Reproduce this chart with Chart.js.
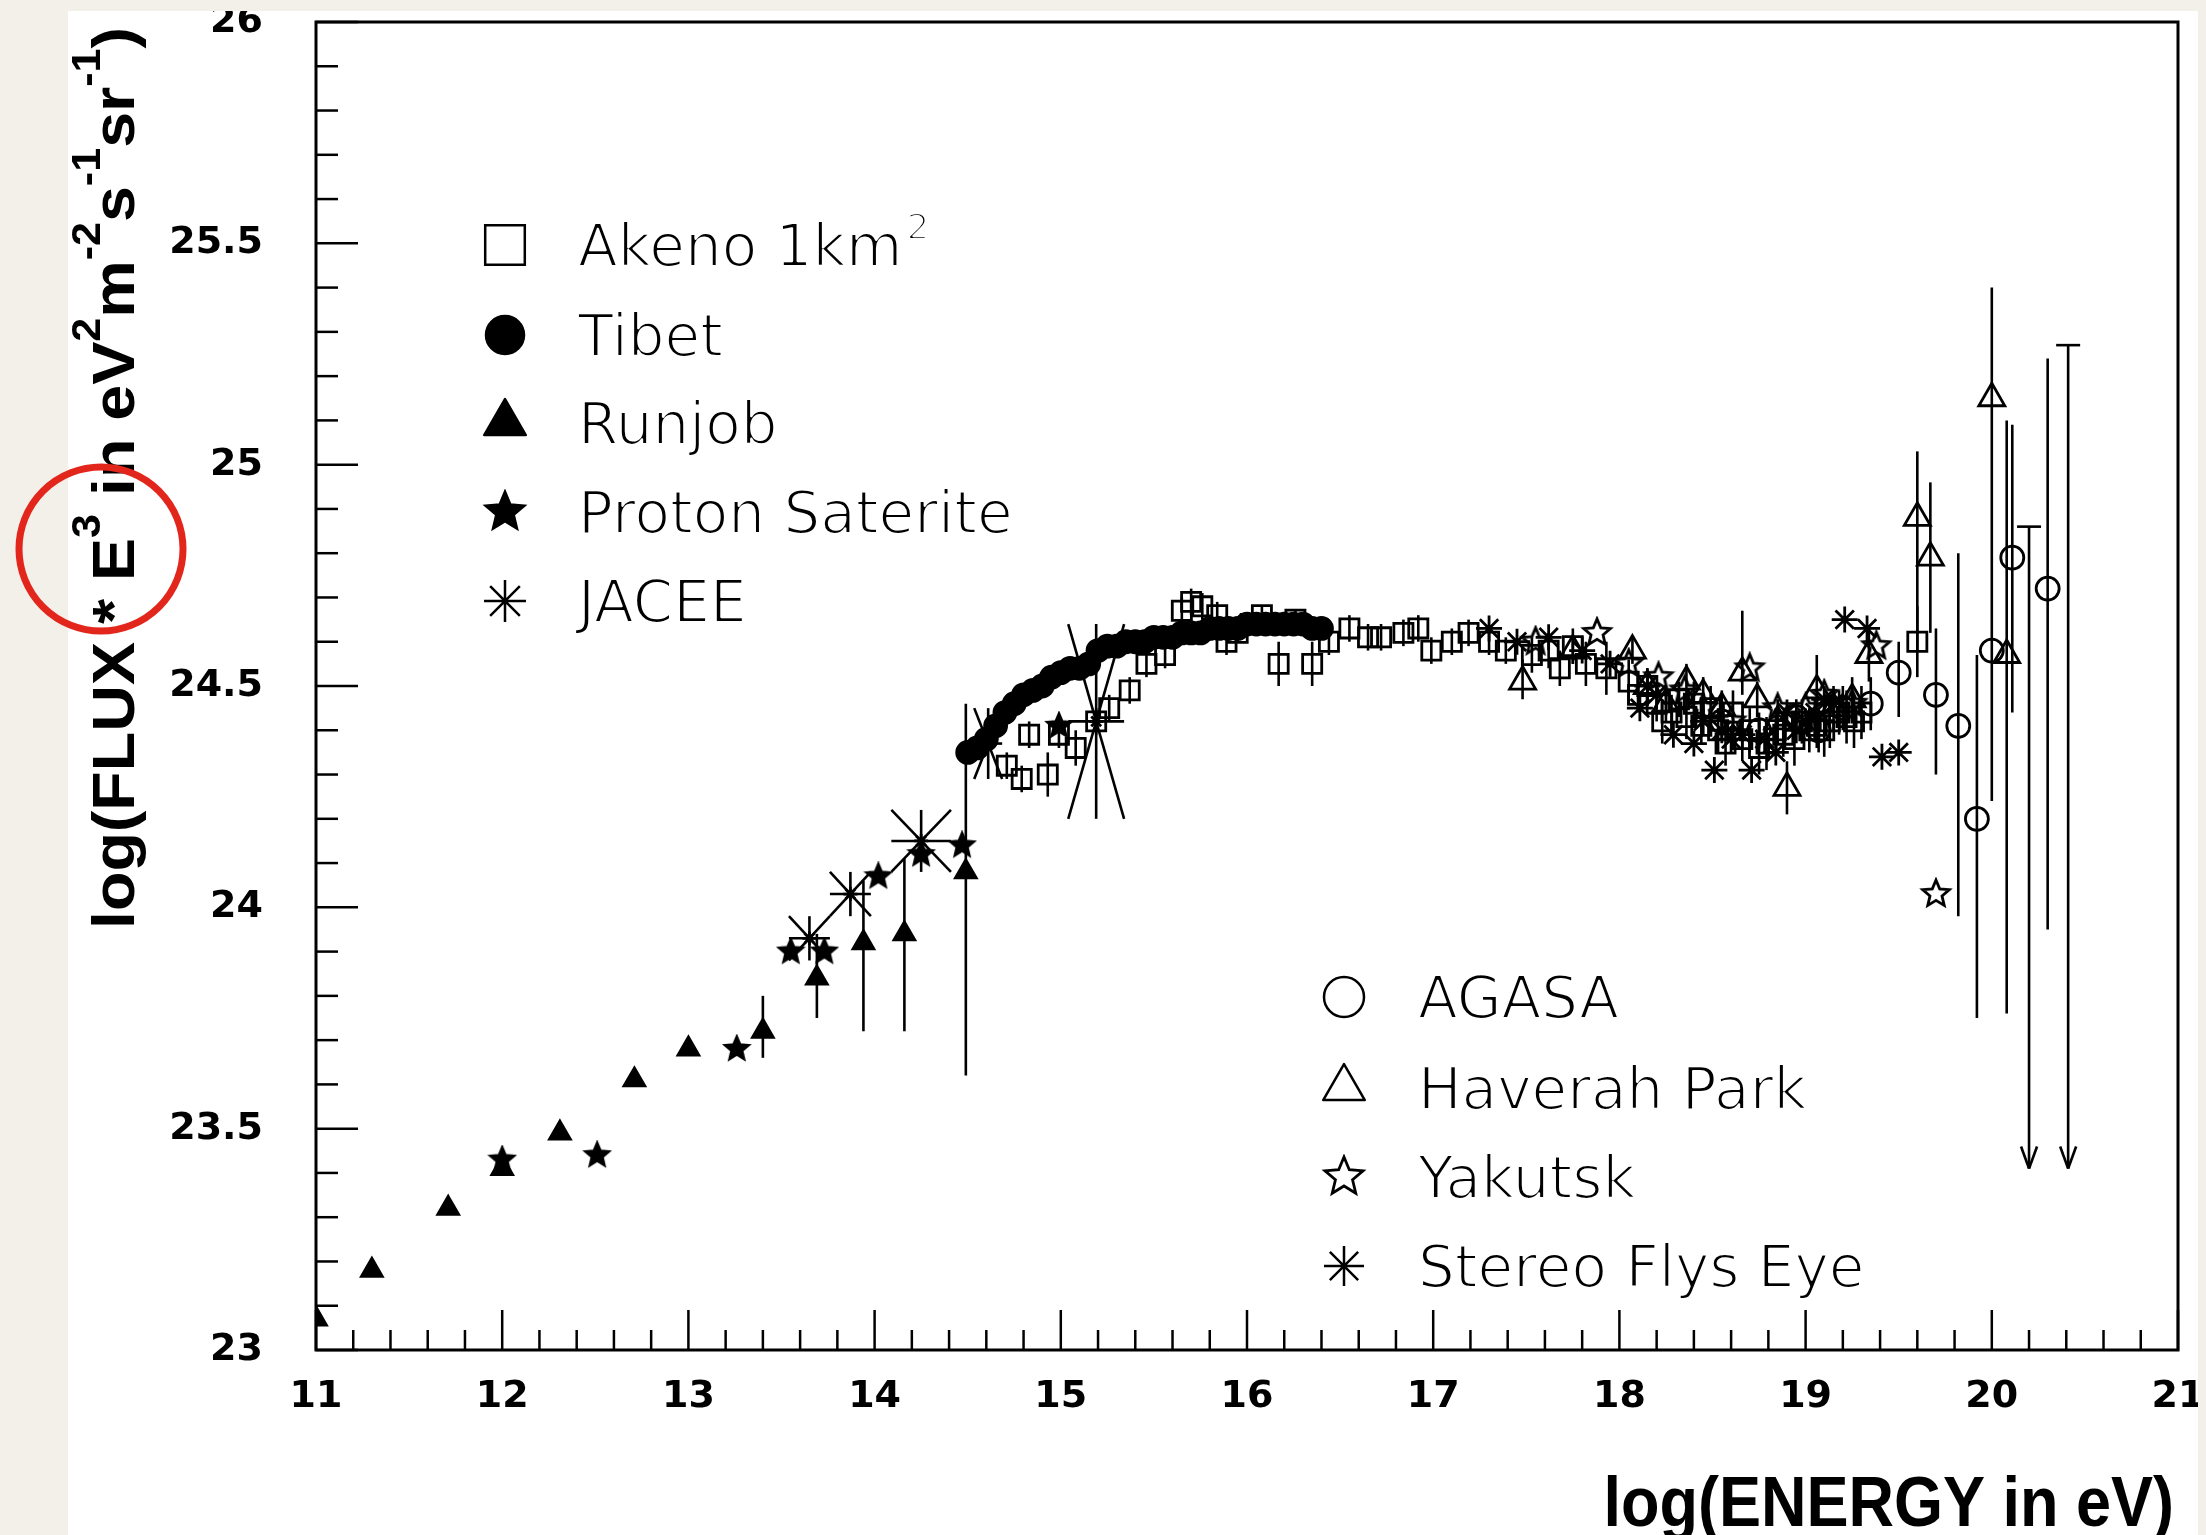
<!DOCTYPE html>
<html>
<head>
<meta charset="utf-8">
<script src="https://cdn.jsdelivr.net/npm/chart.js@4.4.1/dist/chart.umd.min.js"></script>
<style>
  html, body { margin: 0; padding: 0; background: #f3f0ea; }
  #wrap { width: 2206px; height: 1535px; }
</style>
</head>
<body>
<div id="wrap"><canvas id="myChart" width="2206" height="1535"></canvas></div>
<script>
// values: x = log10(E/eV), y = log10(flux * E^3)
const akenoX = [14.71, 14.79, 14.83, 14.93, 14.99, 15.08, 15.19, 15.26, 15.37, 15.46, 15.56, 15.65, 15.70, 15.76, 15.84, 15.89, 15.95, 16.02, 16.08, 16.17, 16.26, 16.35, 16.44, 16.55, 16.65, 16.72, 16.84, 16.92, 16.99, 17.10, 17.19, 17.30, 17.39, 17.53, 17.62, 17.68, 17.75, 17.82, 17.93, 18.05, 18.10, 18.15, 18.20, 18.23, 18.28, 18.32, 18.36, 18.40, 18.44, 18.49, 18.53, 18.57, 18.61, 18.66, 18.70, 18.75, 18.79, 18.84, 18.88, 18.94, 18.98, 19.02, 19.06, 19.10, 19.13, 19.18, 19.22, 19.26, 19.30, 19.60];
const akenoY = [24.32, 24.29, 24.39, 24.30, 24.39, 24.36, 24.42, 24.45, 24.49, 24.55, 24.57, 24.67, 24.69, 24.68, 24.66, 24.60, 24.62, 24.64, 24.66, 24.55, 24.65, 24.55, 24.60, 24.63, 24.61, 24.61, 24.62, 24.63, 24.58, 24.60, 24.62, 24.60, 24.58, 24.57, 24.58, 24.54, 24.59, 24.55, 24.54, 24.51, 24.48, 24.50, 24.46, 24.42, 24.44, 24.47, 24.43, 24.46, 24.41, 24.45, 24.40, 24.37, 24.44, 24.38, 24.40, 24.36, 24.37, 24.40, 24.39, 24.38, 24.42, 24.40, 24.41, 24.40, 24.42, 24.44, 24.43, 24.42, 24.44, 24.60];
const akenoErr = [0.03, 0.03, 0.03, 0.05, 0.03, 0.04, 0.03, 0.03, 0.03, 0.03, 0.03, 0.03, 0.03, 0.03, 0.03, 0.03, 0.02, 0.02, 0.02, 0.05, 0.02, 0.05, 0.03, 0.03, 0.03, 0.03, 0.03, 0.03, 0.03, 0.03, 0.03, 0.03, 0.03, 0.04, 0.04, 0.04, 0.04, 0.05, 0.06, 0.05, 0.04, 0.04, 0.04, 0.05, 0.04, 0.04, 0.05, 0.05, 0.04, 0.05, 0.05, 0.05, 0.05, 0.05, 0.05, 0.06, 0.06, 0.05, 0.05, 0.06, 0.05, 0.05, 0.05, 0.06, 0.06, 0.05, 0.06, 0.06, 0.06, 0.08];

const tibetX = [14.50, 14.55, 14.60, 14.65, 14.70, 14.75, 14.80, 14.85, 14.90, 14.95, 15.00, 15.05, 15.10, 15.15, 15.20, 15.25, 15.30, 15.35, 15.40, 15.45, 15.50, 15.55, 15.60, 15.65, 15.70, 15.75, 15.80, 15.85, 15.90, 15.95, 16.00, 16.05, 16.10, 16.15, 16.20, 16.25, 16.30, 16.35, 16.40];
const tibetY = [24.35, 24.36, 24.38, 24.41, 24.44, 24.46, 24.48, 24.49, 24.50, 24.52, 24.53, 24.54, 24.54, 24.55, 24.58, 24.59, 24.59, 24.60, 24.60, 24.60, 24.61, 24.61, 24.61, 24.62, 24.62, 24.62, 24.63, 24.63, 24.63, 24.63, 24.64, 24.64, 24.64, 24.64, 24.64, 24.64, 24.64, 24.63, 24.63];

const runjobX = [11.00, 11.30, 11.71, 12.00, 12.31, 12.71, 13.00, 13.40, 13.69, 13.94, 14.16, 14.49];
const runjobY = [23.07, 23.18, 23.32, 23.41, 23.49, 23.61, 23.68, 23.72, 23.84, 23.92, 23.94, 24.08];
const runjobLo = [null, null, null, null, null, null, null, 23.66, 23.75, 23.72, 23.72, 23.62];
const runjobHi = [null, null, null, null, null, null, null, 23.80, 23.94, 24.06, 24.11, 24.46];

const protonX = [12.00, 12.51, 13.26, 13.55, 13.73, 14.02, 14.25, 14.47, 14.99];
const protonY = [23.43, 23.44, 23.68, 23.90, 23.90, 24.07, 24.12, 24.14, 24.41];

const jaceeX = [13.65, 13.87, 14.25, 14.61, 15.19];
const jaceeY = [23.93, 24.03, 24.15, 24.37, 24.42];
const jaceeXErr = [0.11, 0.11, 0.16, 0.075, 0.15];
const jaceeYErr = [0.05, 0.05, 0.07, 0.08, 0.22];

const agasaX = [18.55, 18.75, 18.95, 19.07, 19.20, 19.35, 19.50, 19.70, 19.82, 19.92, 20.00, 20.11, 20.30];
const agasaY = [24.42, 24.40, 24.43, 24.40, 24.45, 24.46, 24.53, 24.48, 24.41, 24.20, 24.58, 24.79, 24.72];
const agasaLo = [24.38, 24.36, 24.39, 24.35, 24.40, 24.40, 24.43, 24.30, 23.98, 23.75, null, 24.44, 23.95];
const agasaHi = [24.46, 24.44, 24.47, 24.45, 24.50, 24.52, 24.60, 24.63, 24.80, 24.57, null, 25.09, 25.24];
// AGASA upper limits (arrows)
const agasaLimX = [20.20, 20.41];
const agasaLimTop = [24.86, 25.27];
const agasaLimEnd = [23.41, 23.41];

const haverahX = [17.48, 17.75, 18.07, 18.15, 18.25, 18.36, 18.45, 18.55, 18.66, 18.74, 18.85, 18.90, 19.06, 19.15, 19.25, 19.34, 19.60, 19.67, 20.00, 20.08];
const haverahY = [24.51, 24.58, 24.58, 24.50, 24.46, 24.51, 24.48, 24.45, 24.53, 24.47, 24.42, 24.27, 24.49, 24.45, 24.47, 24.57, 24.88, 24.79, 25.15, 24.57];
const haverahLo = [24.47, 24.55, 24.55, 24.46, 24.42, 24.47, 24.44, 24.41, 24.48, 24.43, 24.37, 24.21, 24.44, 24.40, 24.42, 24.51, 24.58, 24.62, 24.24, 23.76];
const haverahHi = [24.56, 24.61, 24.61, 24.54, 24.50, 24.55, 24.52, 24.49, 24.67, 24.51, 24.47, 24.33, 24.57, 24.50, 24.52, 24.63, 25.03, 24.96, 25.40, 25.10];

const yakutskX = [17.55, 17.88, 18.05, 18.21, 18.35, 18.45, 18.60, 18.70, 18.85, 19.00, 19.10, 19.25, 19.38, 19.70];
const yakutskY = [24.60, 24.62, 24.55, 24.52, 24.49, 24.45, 24.42, 24.54, 24.45, 24.45, 24.48, 24.46, 24.59, 24.03];

const flysEyeX = [17.30, 17.45, 17.62, 17.80, 17.95, 18.11, 18.15, 18.20, 18.29, 18.40, 18.45, 18.51, 18.55, 18.60, 18.66, 18.71, 18.78, 18.84, 18.90, 18.95, 19.00, 19.05, 19.10, 19.15, 19.21, 19.33, 19.41, 19.50];
const flysEyeY = [24.63, 24.60, 24.61, 24.58, 24.55, 24.45, 24.50, 24.48, 24.39, 24.37, 24.42, 24.31, 24.40, 24.38, 24.39, 24.31, 24.38, 24.35, 24.44, 24.40, 24.42, 24.44, 24.47, 24.46, 24.65, 24.63, 24.34, 24.35];

const xTicks = ['11', '12', '13', '14', '15', '16', '17', '18', '19', '20', '21'];
const yTicks = ['23', '23.5', '24', '24.5', '25', '25.5', '26'];

function pts(xs, ys) {
    return xs.map(function (x, i) { return { x: x, y: ys[i] }; });
}

// five pointed star marker, drawn on a small canvas
function makeStar(r, filled) {
    var c = document.createElement('canvas');
    var s = Math.ceil(2 * r + 6);
    c.width = s;
    c.height = s;
    var g = c.getContext('2d');
    g.beginPath();
    for (var i = 0; i < 10; i++) {
        var a = -Math.PI / 2 + i * Math.PI / 5;
        var rr = i % 2 ? r * 0.45 : r;
        g.lineTo(s / 2 + rr * Math.cos(a), s / 2 + rr * Math.sin(a));
    }
    g.closePath();
    if (filled) {
        g.fillStyle = '#000';
        g.fill();
    }
    g.lineWidth = 2.8;
    g.strokeStyle = '#000';
    g.stroke();
    return c;
}

const BLACK = '#000';
const NONE = 'rgba(0,0,0,0)';

function ds(label, xs, ys, style, radius, filled, extra) {
    var d = {
        label: label,
        data: pts(xs, ys),
        pointStyle: style,
        pointRadius: radius,
        pointBackgroundColor: filled ? BLACK : NONE,
        pointBorderColor: BLACK,
        pointBorderWidth: 2.8,
        showLine: false
    };
    return Object.assign(d, extra || {});
}

const datasets = [
    ds('Akeno 1km', akenoX, akenoY, 'rect', 13.5, false, { yErr: akenoErr, legendStyle: 'rect', legendR: 28 }),
    ds('Tibet', tibetX, tibetY, 'circle', 11, true, { legendStyle: 'circle', legendR: 19 }),
    ds('Runjob', runjobX, runjobY, 'triangle', 12, true, { yLo: runjobLo, yHi: runjobHi, legendStyle: 'triangle', legendR: 24 }),
    ds('Proton Saterite', protonX, protonY, makeStar(12, true), 12, true, { legendStyle: makeStar(20, true), legendR: 20 }),
    ds('JACEE', jaceeX, jaceeY, 'star', 7, false, { boxX: jaceeXErr, boxY: jaceeYErr, legendStyle: 'star', legendR: 21 }),
    ds('AGASA', agasaX, agasaY, 'circle', 11.5, false, { yLo: agasaLo, yHi: agasaHi, legendStyle: 'circle', legendR: 20 }),
    ds('Haverah Park', haverahX, haverahY, 'triangle', 15, false, { yLo: haverahLo, yHi: haverahHi, legendStyle: 'triangle', legendR: 24 }),
    ds('Yakutsk', yakutskX, yakutskY, makeStar(14, false), 14, false, { legendStyle: makeStar(20, false), legendR: 20 }),
    ds('Stereo Flys Eye', flysEyeX, flysEyeY, 'star', 13, false, { legendStyle: 'star', legendR: 20 })
];

function seg(ctx, x1, y1, x2, y2) {
    ctx.beginPath();
    ctx.moveTo(x1, y1);
    ctx.lineTo(x2, y2);
    ctx.stroke();
}

// error bars, JACEE error crosses and AGASA upper limit arrows
const errorBars = {
    id: 'errorBars',
    afterDatasetsDraw: function (chart) {
        var ctx = chart.ctx, sx = chart.scales.x, sy = chart.scales.y, a = chart.chartArea;
        ctx.save();
        ctx.beginPath();
        ctx.rect(a.left, a.top, a.right - a.left, a.bottom - a.top);
        ctx.clip();
        ctx.strokeStyle = BLACK;
        ctx.lineWidth = 2.6;
        chart.data.datasets.forEach(function (d) {
            d.data.forEach(function (p, i) {
                var px = sx.getPixelForValue(p.x), py = sy.getPixelForValue(p.y);
                var lo = null, hi = null;
                if (d.yErr) { lo = p.y - d.yErr[i]; hi = p.y + d.yErr[i]; }
                if (d.yLo) { lo = d.yLo[i]; hi = d.yHi[i]; }
                if (lo != null && hi != null) {
                    seg(ctx, px, sy.getPixelForValue(lo), px, sy.getPixelForValue(hi));
                }
                if (d.boxX) {
                    var x1 = sx.getPixelForValue(p.x - d.boxX[i]), x2 = sx.getPixelForValue(p.x + d.boxX[i]);
                    var y1 = sy.getPixelForValue(p.y - d.boxY[i]), y2 = sy.getPixelForValue(p.y + d.boxY[i]);
                    seg(ctx, x1, py, x2, py);
                    seg(ctx, px, y1, px, y2);
                    seg(ctx, x1, y1, x2, y2);
                    seg(ctx, x1, y2, x2, y1);
                }
            });
        });
        agasaLimX.forEach(function (x, i) {
            var px = sx.getPixelForValue(x);
            var top = sy.getPixelForValue(agasaLimTop[i]);
            var end = sy.getPixelForValue(agasaLimEnd[i]);
            seg(ctx, px, top, px, end);
            seg(ctx, px - 12, top, px + 12, top);
            seg(ctx, px - 8, end - 22, px, end);
            seg(ctx, px + 8, end - 22, px, end);
        });
        ctx.restore();
    }
};

function drawMarker(ctx, style, x, y, r, filled) {
    ctx.save();
    ctx.strokeStyle = BLACK;
    ctx.fillStyle = BLACK;
    ctx.lineWidth = 2.5;
    if (typeof style !== 'string') {
        ctx.drawImage(style, x - style.width / 2, y - style.height / 2);
        ctx.restore();
        return;
    }
    ctx.beginPath();
    if (style === 'rect') {
        var s = r * Math.SQRT2;
        ctx.rect(x - s / 2, y - s / 2, s, s);
    } else if (style === 'circle') {
        ctx.arc(x, y, r, 0, Math.PI * 2);
    } else if (style === 'triangle') {
        for (var k = 0; k < 3; k++) {
            var t = -Math.PI / 2 + k * 2 * Math.PI / 3;
            ctx.lineTo(x + r * Math.cos(t), y + r * Math.sin(t));
        }
        ctx.closePath();
    } else if (style === 'star') {
        for (var j = 0; j < 4; j++) {
            var u = j * Math.PI / 4;
            ctx.moveTo(x - r * Math.cos(u), y - r * Math.sin(u));
            ctx.lineTo(x + r * Math.cos(u), y + r * Math.sin(u));
        }
    }
    if (filled) ctx.fill();
    ctx.stroke();
    ctx.restore();
}

// thin lettering: fill, then shave the edges with a white outline
function thinText(ctx, text, x, y, font) {
    ctx.font = font;
    ctx.fillStyle = BLACK;
    ctx.fillText(text, x, y);
    ctx.strokeStyle = '#fff';
    ctx.lineWidth = 2.2;
    ctx.lineJoin = 'round';
    ctx.strokeText(text, x, y);
}

// frame, inward ticks, two legend blocks, axis titles and the paper around the figure
const decorations = {
    id: 'decorations',
    beforeDraw: function (chart) {
        var ctx = chart.ctx;
        ctx.save();
        ctx.fillStyle = '#f3f0ea';
        ctx.fillRect(0, 0, chart.width, chart.height);
        ctx.fillStyle = '#ffffff';
        ctx.fillRect(68, 11, 2130, chart.height - 11);
        ctx.restore();
    },
    afterDraw: function (chart) {
        var ctx = chart.ctx, a = chart.chartArea, sx = chart.scales.x, sy = chart.scales.y;
        ctx.save();
        ctx.strokeStyle = BLACK;
        ctx.lineWidth = 3;
        ctx.strokeRect(a.left, a.top, a.right - a.left, a.bottom - a.top);
        ctx.lineWidth = 2.5;
        for (var i = 0; i <= 30; i++) {
            var v = 23 + i / 10;
            var py = sy.getPixelForValue(v);
            seg(ctx, a.left, py, a.left + (i % 5 === 0 ? 42 : 22), py);
        }
        for (var j = 0; j <= 50; j++) {
            var w = 11 + j / 5;
            var px = sx.getPixelForValue(w);
            seg(ctx, px, a.bottom, px, a.bottom - (j % 5 === 0 ? 40 : 20));
        }

        // legends
        var blocks = [
            { mx: 505, tx: 578, rows: [245, 335, 423, 512, 601], items: [0, 1, 2, 3, 4] },
            { mx: 1344, tx: 1418, rows: [997, 1088, 1177, 1266], items: [5, 6, 7, 8] }
        ];
        ctx.textAlign = 'left';
        ctx.textBaseline = 'alphabetic';
        blocks.forEach(function (b) {
            b.items.forEach(function (di, k) {
                var d = chart.data.datasets[di];
                var y = b.rows[k];
                drawMarker(ctx, d.legendStyle, b.mx, y, d.legendR, d.pointBackgroundColor === BLACK);
                var f = "58px 'DejaVu Sans'";
                thinText(ctx, d.label, b.tx, y + 21, f);
                if (di === 0) {
                    ctx.font = f;
                    var wdt = ctx.measureText(d.label).width;
                    thinText(ctx, '2', b.tx + wdt + 4, y - 6, "36px 'DejaVu Sans'");
                }
            });
        });
        ctx.fillStyle = BLACK;

        // x title, a little narrower than the stock font
        ctx.save();
        ctx.font = "bold 70px 'Liberation Sans', Arial, sans-serif";
        ctx.textAlign = 'right';
        ctx.translate(2174, 1526);
        ctx.scale(0.9, 1);
        ctx.fillText('log(ENERGY in eV)', 0, 0);
        ctx.restore();

        // y title, rotated, with superscripts
        var parts = [
            ['log(FLUX * E', 0], ['3', 1], [' in eV', 0], ['2', 1], ['m', 0], ['-2', 1],
            ['s', 0], ['-1', 1], ['sr', 0], ['-1', 1], [')', 0]
        ];
        var mainFont = "bold 60px 'Liberation Sans', Arial, sans-serif";
        var supFont = "bold 40px 'Liberation Sans', Arial, sans-serif";
        var total = 0;
        parts.forEach(function (p) {
            ctx.font = p[1] ? supFont : mainFont;
            total += ctx.measureText(p[0]).width;
        });
        ctx.translate(134, 929);
        ctx.rotate(-Math.PI / 2);
        ctx.scale(902 / total, 1);
        ctx.textAlign = 'left';
        var cx = 0;
        parts.forEach(function (p) {
            ctx.font = p[1] ? supFont : mainFont;
            ctx.fillText(p[0], cx, p[1] ? -34 : 0);
            cx += ctx.measureText(p[0]).width;
        });
        ctx.restore();

        // paper around the white sheet
        ctx.save();
        ctx.fillStyle = '#f3f0ea';
        ctx.fillRect(0, 0, chart.width, 11);
        ctx.fillRect(0, 0, 68, chart.height);
        ctx.fillRect(2198, 0, chart.width - 2198, chart.height);
        // red annotation circle
        ctx.strokeStyle = '#e3261b';
        ctx.lineWidth = 7;
        ctx.beginPath();
        ctx.arc(101, 549, 82, 0, Math.PI * 2);
        ctx.stroke();
        ctx.restore();
    }
};

let myChart = new Chart(document.getElementById('myChart'), {
    type: 'scatter',
    data: { datasets: datasets },
    options: {
        responsive: false,
        animation: false,
        layout: { autoPadding: false, padding: { top: 22, right: 28, left: 0, bottom: 0 } },
        scales: {
            x: {
                type: 'linear',
                min: 11,
                max: 21,
                afterFit: function (s) {
                    s.height = 185;
                    s.paddingLeft = 0;
                    s.paddingRight = 0;
                },
                grid: { display: false, drawTicks: false },
                border: { display: false },
                ticks: {
                    stepSize: 1,
                    autoSkip: false,
                    maxRotation: 0,
                    padding: 24,
                    color: BLACK,
                    font: { family: "'DejaVu Sans'", size: 38, weight: 'bold' },
                    callback: function (v) { return xTicks[Math.round(v - 11)]; }
                }
            },
            y: {
                type: 'linear',
                min: 23,
                max: 26,
                afterFit: function (s) {
                    s.width = 316;
                    s.paddingTop = 0;
                    s.paddingBottom = 0;
                },
                grid: { display: false, drawTicks: false },
                border: { display: false },
                ticks: {
                    stepSize: 0.5,
                    autoSkip: false,
                    padding: 53,
                    color: BLACK,
                    font: { family: "'DejaVu Sans'", size: 38, weight: 'bold' },
                    callback: function (v) { return yTicks[Math.round((v - 23) * 2)]; }
                }
            }
        },
        plugins: {
            legend: { display: false },
            tooltip: { enabled: false }
        }
    },
    plugins: [decorations, errorBars]
});
</script>
</body>
</html>
